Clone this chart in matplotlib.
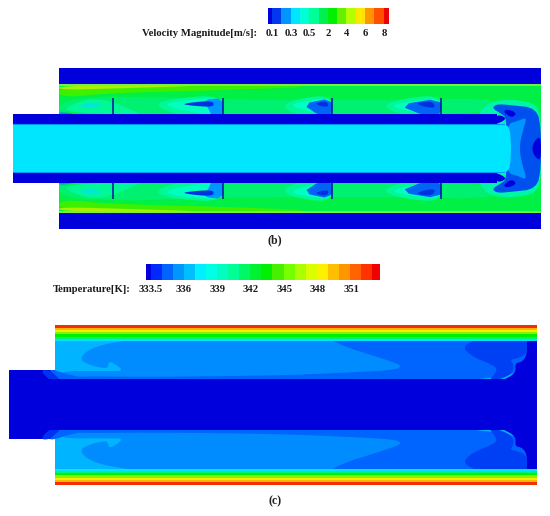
import numpy as np
import matplotlib
matplotlib.use('Agg')
import matplotlib.pyplot as plt
from matplotlib.colors import ListedColormap

# colour levels read from the two legends
vel_colors = ['#0000dc', '#0038f0', '#0096ff', '#00e6ff', '#00ffd2', '#00ff96', '#00f050',
              '#00f000', '#64f000', '#b4ff00', '#ffe600', '#ff9600', '#ff5000', '#f00000']
vel_edges = [267.5, 272, 281, 290.5, 300, 309, 318.5, 327.5, 337, 346, 355.5, 365, 374, 383.5, 388.5]
vel_ticks = ['0.1', '0.3', '0.5', '2', '4', '6', '8']
vel_tick_x = [272, 291, 309, 328, 347, 365, 384]

temp_colors = ['#0000dc', '#0028ff', '#0064ff', '#0096ff', '#00beff', '#00f0ff', '#00ffe6', '#00ffbe',
               '#00ff96', '#00f864', '#00f032', '#00f000', '#46f000', '#78ff00', '#aaff00', '#dcff00',
               '#fff000', '#ffbe00', '#ff9600', '#ff6400', '#ff3200', '#f00000']
temp_edges = [145.7, 151, 162, 173, 184, 195, 206, 217, 228, 239, 250, 261, 272, 284, 295, 306, 317, 328, 339, 350, 361, 372, 379.5]
temp_ticks = ['333.5', '336', '339', '342', '345', '348', '351']
temp_tick_x = [151, 184, 218, 251, 285, 318, 352]

# panel (b), upper half outlines, lower half is mirrored
b_mid = 148.5
b_yellow = [(59, 86), (130, 85.5), (210, 85.5), (130, 88), (59, 90)]
b_lime = [(59, 86), (200, 86), (330, 86), (230, 90), (110, 93), (59, 98)]
b_green2 = [(59, 102), (90, 97), (150, 97), (260, 100), (400, 100), (500, 98), (500, 116), (59, 116)]
b_wake_halo = [[(60, 112), (75, 103), (90, 99), (108, 100), (130, 109), (145, 116)],
               [(152, 105), (175, 98), (223, 95), (223, 116), (180, 116)],
               [(280, 106), (300, 98), (332, 95), (332, 116), (300, 116)],
               [(380, 106), (405, 98), (441, 95), (441, 116), (405, 116)]]
b_wake_light = [[(160, 105), (185, 100), (223, 97), (223, 116), (200, 114)],
                [(287, 105), (310, 100), (332, 98), (332, 116), (315, 113)],
                [(388, 106), (412, 101), (441, 98), (441, 116), (418, 113)]]
b_wake_blue = [[(203, 100), (223, 98), (223, 116), (212, 116), (208, 108)],
               [(302, 104), (332, 98), (332, 116), (320, 116)],
               [(398, 105), (441, 98), (441, 116), (425, 116)]]
b_wake_blue_colors = ['#0096ff', '#0064f5', '#0064f5']
b_wake_dark = [[(180, 104), (205, 101), (214, 102), (213, 107), (195, 106)],
               [(315, 103), (327, 101), (329, 107), (320, 106)],
               [(415, 103), (432, 101), (436, 108), (425, 107)]]
b_cyan_spot = [(78, 106), (90, 102), (104, 105), (92, 108)]
b_wall_wash = [(59, 112), (70, 113), (82, 116), (59, 116)]
b_fin_x = [113, 223, 332, 441]
b_end_halo = [(478, 116), (485, 105), (497, 100), (520, 100), (538, 105), (541, 125), (541, 152), (478, 152)]
b_end_blue = [(492, 108), (497, 104), (510, 105), (537, 108), (541, 130), (541, 152), (505, 152), (507, 118), (500, 113)]
b_end_light = [(507, 124), (518, 121), (527, 117), (523, 130), (520, 143), (520, 152), (505, 152)]
b_end_dark = [(503, 112), (507, 109), (517, 113), (512, 118)]
b_wall_end = [(497, 114), (507, 118), (500, 123), (490, 125)]
b_core_end = [(500, 124), (507, 125), (510, 130), (511, 145), (511, 152), (500, 152)]
b_bulge = [(541, 136), (535, 140), (531.5, 148.5), (535, 157), (541, 161)]

# panel (c), painted back to front, later layers hide the straight sides of earlier ones
c_mid = 404.7
c_band_y = [324.7, 327.5, 329.5, 331.5, 334, 336.5, 338.5, 340.5]
c_band_colors = ['#f03000', '#ffb400', '#f0f000', '#8cf000', '#00f000', '#00f078', '#00e6ff']
c_medium = [(80, 360), (85, 352), (100, 345), (140, 338), (530, 338), (530, 385), (62, 385), (55, 371),
            (108, 371), (125, 371), (109, 360), (108, 368), (102, 368), (90, 365)]
c_blue2 = [(318, 333), (345, 347), (375, 356), (412, 369), (340, 373), (275, 375.5), (150, 377), (60, 376),
           (60, 386), (535, 386), (535, 333)]
c_blue3 = [(463, 348), (470, 342), (487, 335), (528, 335), (527, 348), (525, 355), (518, 358), (510, 360),
           (513, 363), (514, 370), (507, 377), (487, 383), (498, 370), (493, 365), (473, 357)]
c_deep = [(527, 335), (527, 355), (522, 362), (515, 363), (516, 372), (508, 378), (490, 385), (537, 385), (537, 335)]
c_tube_a = [(40, 370), (50, 370), (56, 376), (62, 381), (50, 381)]
c_tube_b = [(48, 370), (55, 370), (66, 374), (80, 377), (90, 381), (60, 381)]
c_tube_y = [370, 379.3]

fig = plt.figure(figsize=(5.5, 5.16), dpi=100)
ax = fig.add_axes([0, 0, 1, 1])
ax.set_xlim(0, 550)
ax.set_ylim(516, 0)
ax.axis('off')
plt.rcParams['font.family'] = ['Liberation Serif', 'DejaVu Serif']


def rect(x0, x1, y0, y1, color, z=1):
    ax.fill([x0, x1, x1, x0], [y0, y0, y1, y1], color=color, lw=0, zorder=z)


def chaikin(points, n):
    # corner cutting so the hand read contours do not look like polygons
    pts = np.array(points, dtype=float)
    for _ in range(n):
        nxt = np.roll(pts, -1, axis=0)
        pts = np.column_stack([0.75 * pts + 0.25 * nxt, 0.25 * pts + 0.75 * nxt]).reshape(-1, 2)
    return pts


def both(points, mid, color, z=2, n=3):
    # every contour is drawn twice, once mirrored about the tube axis
    pts = chaikin(points, n)
    ax.fill(pts[:, 0], pts[:, 1], color=color, lw=0, zorder=z)
    ax.fill(pts[:, 0], 2 * mid - pts[:, 1], color=color, lw=0, zorder=z)


def legend_bar(edges, colors, y0, y1):
    ramp = np.arange(len(colors)).reshape(1, -1)
    ax.pcolormesh(edges, [y0, y1], ramp, cmap=ListedColormap(colors), zorder=2)


# legends
legend_bar(vel_edges, vel_colors, 7.5, 23.5)
legend_bar(temp_edges, temp_colors, 264, 280)
lab = dict(fontsize=7.7, fontweight='bold', color='#1a1a1a', va='center')
ax.text(142, 33, 'Velocity Magnitude[m/s]:', ha='left', **lab)
for x, t in zip(vel_tick_x, vel_ticks):
    ax.text(x, 33, t, ha='center', **lab)
ax.text(53, 289, 'Temperature[K]:', ha='left', **lab)
for x, t in zip(temp_tick_x, temp_ticks):
    ax.text(x, 289, t, ha='center', **lab)
ax.text(275, 240, '(b)', ha='center', va='center', fontsize=8.5, fontweight='bold', color='#222222')
ax.text(275, 501, '(c)', ha='center', va='center', fontsize=8.5, fontweight='bold', color='#222222')

# panel (b)
rect(59, 541, 84, 213, '#00f046')
rect(59, 541, 68, 84, '#0000dc', 3)
rect(59, 541, 213, 229, '#0000dc', 3)
rect(59, 541, 84, 86, '#78f040', 2)
rect(59, 541, 211, 213, '#78f040', 2)
both(b_lime, b_mid, '#3cf000')
both(b_yellow, b_mid, '#aaf000', n=2)
both(b_green2, b_mid, '#00f070', n=2)
for poly in b_wake_halo:
    both(poly, b_mid, '#00f896', 3)
for poly in b_wake_light:
    both(poly, b_mid, '#00ffc0', 3, n=2)
both(b_cyan_spot, b_mid, '#00e6dc', 4)
for poly, col in zip(b_wake_blue, b_wake_blue_colors):
    both(poly, b_mid, col, 4, n=1)
for poly in b_wake_dark:
    both(poly, b_mid, '#0030e0', 5, n=2)
both(b_wall_wash, b_mid, '#0096ff', 4, n=1)
both(b_end_halo, b_mid, '#00f5a5', 3)
both(b_end_blue, b_mid, '#0050f0', 4, n=2)
both(b_end_light, b_mid, '#0096ff', 5, n=2)
both(b_end_dark, b_mid, '#0000dc', 6, n=2)
rect(13, 497, 114, 124, '#0000dc', 6)
rect(13, 497, 173, 183, '#0000dc', 6)
both(b_wall_end, b_mid, '#0000dc', 6, n=2)
rect(13, 505, 124, 173, '#00e6ff', 7)
both(b_core_end, b_mid, '#00e6ff', 7, n=2)
rect(13, 505, 124, 124.8, '#0096ff', 8)
rect(13, 505, 172.2, 173, '#0096ff', 8)
ax.fill(*chaikin(b_bulge, 3).T, color='#0000dc', lw=0, zorder=8)
for x in b_fin_x:
    ax.plot([x, x], [98, 114], color='#0020a0', lw=1.2, zorder=7, solid_capstyle='butt')
    ax.plot([x, x], [183, 199], color='#0020a0', lw=1.2, zorder=7, solid_capstyle='butt')

# panel (c)
rect(55, 537, 324.7, 484.7, '#00b4ff', 1)
rect(520, 537, 335, 474, '#0000dc', 1.5)
both(c_medium, c_mid, '#008cff', 2, n=2)
both(c_blue2, c_mid, '#0064ff', 3, n=2)
both(c_blue3, c_mid, '#0040f5', 4, n=2)
both(c_deep, c_mid, '#0000dc', 5, n=2)
rect(9, 55, c_tube_y[0], 2 * c_mid - c_tube_y[0], '#0000dc', 5)
both(c_tube_b, c_mid, '#0064ff', 6, n=2)
both(c_tube_a, c_mid, '#0030f0', 6, n=2)
rect(9, 537, c_tube_y[1], 2 * c_mid - c_tube_y[1], '#0000dc', 7)
for i, col in enumerate(c_band_colors):
    y0, y1 = c_band_y[i], c_band_y[i + 1]
    rect(55, 537, y0, y1, col, 8)
    rect(55, 537, 2 * c_mid - y1, 2 * c_mid - y0, col, 8)

fig.savefig('out.png', dpi=100)
